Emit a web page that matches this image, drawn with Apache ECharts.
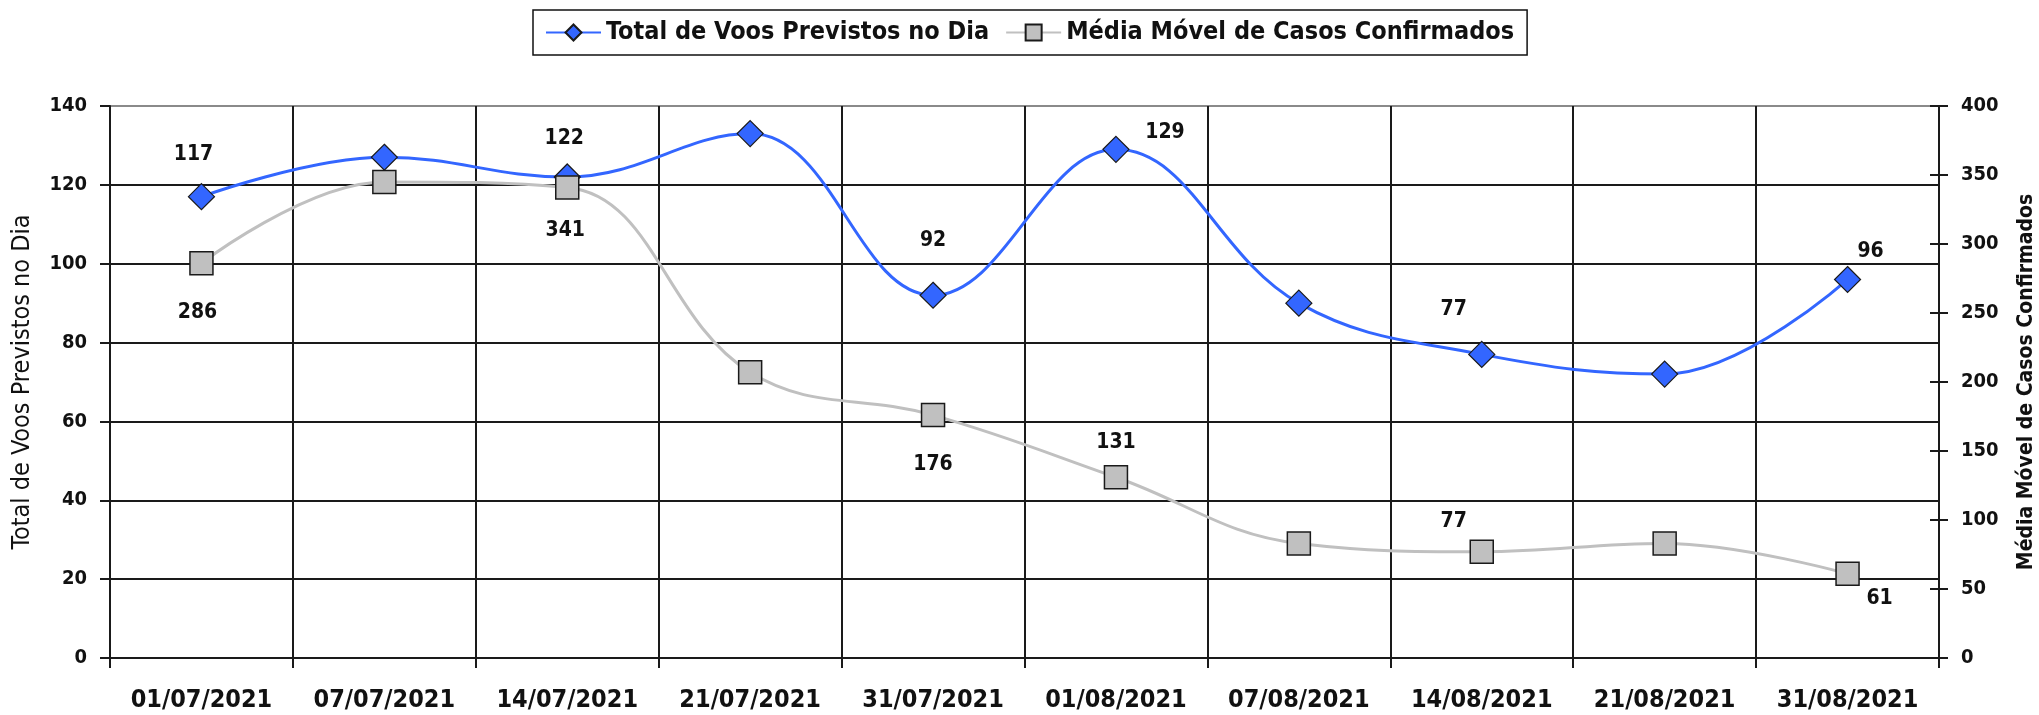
<!DOCTYPE html>
<html>
<head>
<meta charset="utf-8">
<title>Voos x Casos</title>
<script src="https://cdn.jsdelivr.net/npm/echarts@6/dist/echarts.min.js"></script>
<style>
    html, body { margin: 0; padding: 0; background: #fff; }
    #chart { width: 2039px; height: 715px; }
</style>
</head>
<body>
<div id="chart"></div>
<script>
    // datas do eixo x
    var categories = ['01/07/2021', '07/07/2021', '14/07/2021', '21/07/2021', '31/07/2021',
        '01/08/2021', '07/08/2021', '14/08/2021', '21/08/2021', '31/08/2021'];

    // total de voos previstos no dia (eixo esquerdo)
    var voos = [117, 127, 122, 133, 92, 129, 90, 77, 72, 96];

    // media movel de casos confirmados (eixo direito)
    var casos = [286, 345, 341, 207, 176, 131, 83, 77, 83, 61];

    var leftTicks = { min: 0, max: 140, interval: 20 };
    var rightTicks = { min: 0, max: 400, interval: 50 };

    var fontCond = "'DejaVu Sans Condensed', 'DejaVu Sans', sans-serif";

    // onde vai cada rotulo (dx, dy a partir do ponto) - so alguns pontos tem rotulo
    var voosLabelPos = { 0: [-8, -42], 2: [-3, -38], 4: [0, -55], 5: [49, -17], 7: [-28, -45], 9: [23, -28] };
    var casosLabelPos = { 0: [-4, 49], 2: [-2, 43], 4: [0, 49], 5: [0, -35], 7: [-28, -30], 9: [32, 25] };

    function buildData(values, labelPos) {
        return values.map(function (v, i) {
            var item = { value: v };
            if (labelPos[i]) {
                item.label = { show: true, position: 'inside', offset: labelPos[i] };
            }
            return item;
        });
    }

    var labelStyle = {
        show: false,
        color: '#111',
        fontFamily: fontCond,
        fontWeight: 'bold',
        fontSize: 21
    };

    // linha do topo (140) é cinza, o resto preto
    var gridColors = ['#1a1a1a', '#1a1a1a', '#1a1a1a', '#1a1a1a', '#1a1a1a', '#1a1a1a', '#1a1a1a', '#8a8a8a'];

    var chart = echarts.init(document.getElementById('chart'));

    var option = {
        backgroundColor: '#fff',
        animation: false,
        legend: {
            left: 533,
            top: 10,
            padding: [10, 13, 10, 12],
            itemGap: 16,
            itemWidth: 55,
            itemHeight: 20,
            borderColor: '#111',
            borderWidth: 1.5,
            backgroundColor: '#fff',
            textStyle: {
                color: '#111',
                fontFamily: fontCond,
                fontWeight: 'bold',
                fontSize: 25
            },
            data: ['Total de Voos Previstos no Dia', 'Média Móvel de Casos Confirmados']
        },
        grid: {
            left: 110,
            right: 100,
            top: 106,
            bottom: 57,
            outerBoundsMode: 'none'
        },
        xAxis: {
            type: 'category',
            data: categories,
            boundaryGap: true,
            axisLine: { lineStyle: { color: '#1a1a1a', width: 2 } },
            axisTick: { show: true, interval: 0, length: 10, lineStyle: { color: '#1a1a1a', width: 2 } },
            axisLabel: {
                interval: 0,
                margin: 30,
                color: '#111',
                fontFamily: fontCond,
                fontWeight: 'bold',
                fontSize: 25
            },
            splitLine: { show: true, interval: 0, lineStyle: { color: '#1a1a1a', width: 2 } }
        },
        yAxis: [{
            type: 'value',
            min: leftTicks.min,
            max: leftTicks.max,
            interval: leftTicks.interval,
            name: 'Total de Voos Previstos no Dia',
            nameLocation: 'middle',
            nameRotate: 90,
            nameGap: 75,
            nameTextStyle: {
                color: '#111',
                fontFamily: fontCond,
                fontSize: 25
            },
            axisLine: { show: true, lineStyle: { color: '#1a1a1a', width: 2 } },
            axisTick: { show: true, length: 10, lineStyle: { color: '#1a1a1a', width: 2 } },
            axisLabel: {
                margin: 23,
                color: '#111',
                fontFamily: fontCond,
                fontWeight: 'bold',
                fontSize: 20
            },
            splitLine: { show: true, lineStyle: { color: gridColors, width: 2 } }
        }, {
            type: 'value',
            position: 'right',
            min: rightTicks.min,
            max: rightTicks.max,
            interval: rightTicks.interval,
            name: 'Média Móvel de Casos Confirmados',
            nameLocation: 'middle',
            nameRotate: 90,
            nameGap: 77,
            nameTextStyle: {
                color: '#111',
                fontFamily: fontCond,
                fontWeight: 'bold',
                fontSize: 21
            },
            axisLine: { show: true, lineStyle: { color: '#1a1a1a', width: 2 } },
            axisTick: { show: true, length: 9, lineStyle: { color: '#1a1a1a', width: 2 } },
            axisLabel: {
                margin: 22,
                color: '#111',
                fontFamily: fontCond,
                fontWeight: 'bold',
                fontSize: 20
            },
            splitLine: { show: false }
        }, {
            // so pra fazer o tick cruzar o eixo direito
            type: 'value',
            position: 'right',
            min: rightTicks.min,
            max: rightTicks.max,
            interval: rightTicks.interval,
            axisLine: { show: false },
            axisTick: { show: true, inside: true, length: 9, lineStyle: { color: '#1a1a1a', width: 2 } },
            axisLabel: { show: false },
            splitLine: { show: false }
        }],
        series: [{
            name: 'Total de Voos Previstos no Dia',
            type: 'line',
            yAxisIndex: 0,
            smooth: 0.4,
            symbol: 'diamond',
            symbolSize: 26,
            lineStyle: { color: '#3366ff', width: 3 },
            itemStyle: { color: '#3366ff', borderColor: '#1a1a1a', borderWidth: 1.2 },
            label: labelStyle,
            data: buildData(voos, voosLabelPos)
        }, {
            name: 'Média Móvel de Casos Confirmados',
            type: 'line',
            yAxisIndex: 1,
            smooth: 0.4,
            symbol: 'rect',
            symbolSize: 23,
            lineStyle: { color: '#c0c0c0', width: 3 },
            itemStyle: { color: '#c0c0c0', borderColor: '#1a1a1a', borderWidth: 1.5 },
            label: labelStyle,
            data: buildData(casos, casosLabelPos)
        }]
    };

    chart.setOption(option);
</script>
</body>
</html>
